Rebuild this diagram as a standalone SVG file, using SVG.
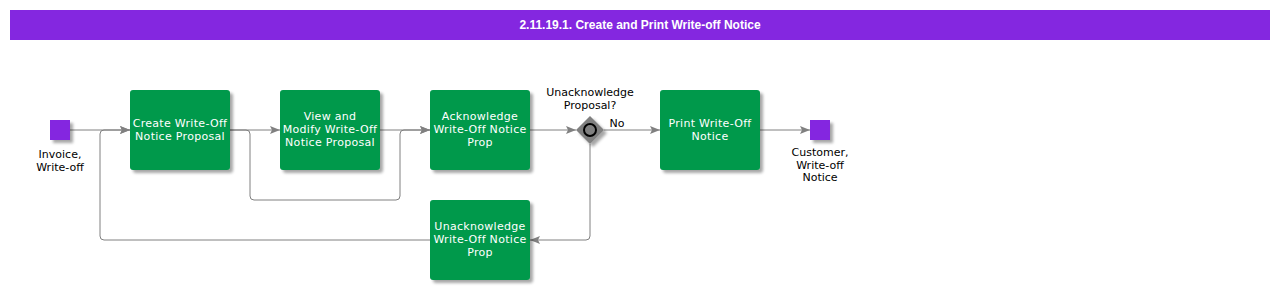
<svg xmlns="http://www.w3.org/2000/svg" width="1280" height="290" viewBox="0 0 1280 290">
<defs>
<style>
.task{fill:#00994C;filter:url(#sh)}
.tt{font-family:"DejaVu Sans",sans-serif;font-size:11px;fill:#ffffff;text-anchor:middle;letter-spacing:0.3px}
.lb{font-family:"DejaVu Sans",sans-serif;font-size:11px;fill:#000000;text-anchor:middle}
.ev{fill:#8427E0;filter:url(#sh)}
.cn{fill:none;stroke:#808080;stroke-width:1}
</style>
<filter id="sh" x="-20%" y="-20%" width="150%" height="150%">
<feGaussianBlur in="SourceAlpha" stdDeviation="1.5"/>
<feOffset dx="3" dy="3" result="b"/>
<feComponentTransfer><feFuncA type="linear" slope="0.35"/></feComponentTransfer>
<feMerge><feMergeNode/><feMergeNode in="SourceGraphic"/></feMerge>
</filter>
<marker id="ah" markerWidth="10" markerHeight="8" refX="10" refY="4" orient="auto" markerUnits="userSpaceOnUse">
<path d="M0,0 L10,4 L0,8 L2,4 Z" fill="#808080"/>
</marker>
</defs>
<g id="title">
<rect x="10" y="10" width="1260" height="30" fill="#8427E0"/>
<text x="640" y="29" font-family="'Liberation Sans',Arial,sans-serif" font-size="12" font-weight="bold" fill="#ffffff" text-anchor="middle">2.11.19.1. Create and Print Write-off Notice</text>
</g>
<g id="connectors">
<path class="cn" d="M70,130 H130" marker-end="url(#ah)"/>
<path class="cn" d="M230,130 H280" marker-end="url(#ah)"/>
<path class="cn" d="M230,130 H246 Q250,130 250,134 V196 Q250,200 254,200 H396 Q400,200 400,196 V134 Q400,130 404,130 H430" marker-end="url(#ah)"/>
<path class="cn" d="M380,130 H430" marker-end="url(#ah)"/>
<path class="cn" d="M530,130 H576" marker-end="url(#ah)"/>
<path class="cn" d="M604,130 H660" marker-end="url(#ah)"/>
<path class="cn" d="M590,144 V236 Q590,240 586,240 H530" marker-end="url(#ah)"/>
<path class="cn" d="M430,240 H104 Q100,240 100,236 V134 Q100,130 104,130 H130" marker-end="url(#ah)"/>
<path class="cn" d="M760,130 H810" marker-end="url(#ah)"/>
<text class="lb" x="617" y="127">No</text>
</g>
<g id="start">
<rect class="ev" x="50" y="120" width="20" height="20"/>
<text class="lb" x="60" y="158">Invoice,</text>
<text class="lb" x="60" y="171">Write-off</text>
</g>
<g id="task1">
<rect class="task" x="130" y="90" width="100" height="80" rx="3"/>
<text class="tt" x="180" y="127">Create Write-Off</text>
<text class="tt" x="180" y="140">Notice Proposal</text>
</g>
<g id="task2">
<rect class="task" x="280" y="90" width="100" height="80" rx="3"/>
<text class="tt" x="330" y="120">View and</text>
<text class="tt" x="330" y="133">Modify Write-Off</text>
<text class="tt" x="330" y="146">Notice Proposal</text>
</g>
<g id="task3">
<rect class="task" x="430" y="90" width="100" height="80" rx="3"/>
<text class="tt" x="480" y="120">Acknowledge</text>
<text class="tt" x="480" y="133">Write-Off Notice</text>
<text class="tt" x="480" y="146">Prop</text>
</g>
<g id="gateway">
<path d="M590,116 L604,130 L590,144 L576,130 Z" fill="#808080" filter="url(#sh)"/>
<circle cx="590" cy="130" r="6" fill="none" stroke="#000000" stroke-width="2"/>
<text class="lb" x="590" y="96">Unacknowledge</text>
<text class="lb" x="590" y="109">Proposal?</text>
</g>
<g id="task4">
<rect class="task" x="660" y="90" width="100" height="80" rx="3"/>
<text class="tt" x="710" y="127">Print Write-Off</text>
<text class="tt" x="710" y="140">Notice</text>
</g>
<g id="end">
<rect class="ev" x="810" y="120" width="20" height="20"/>
<text class="lb" x="820" y="156">Customer,</text>
<text class="lb" x="820" y="168.5">Write-off</text>
<text class="lb" x="820" y="181">Notice</text>
</g>
<g id="task5">
<rect class="task" x="430" y="200" width="100" height="80" rx="3"/>
<text class="tt" x="480" y="230">Unacknowledge</text>
<text class="tt" x="480" y="243">Write-Off Notice</text>
<text class="tt" x="480" y="256">Prop</text>
</g>
</svg>
